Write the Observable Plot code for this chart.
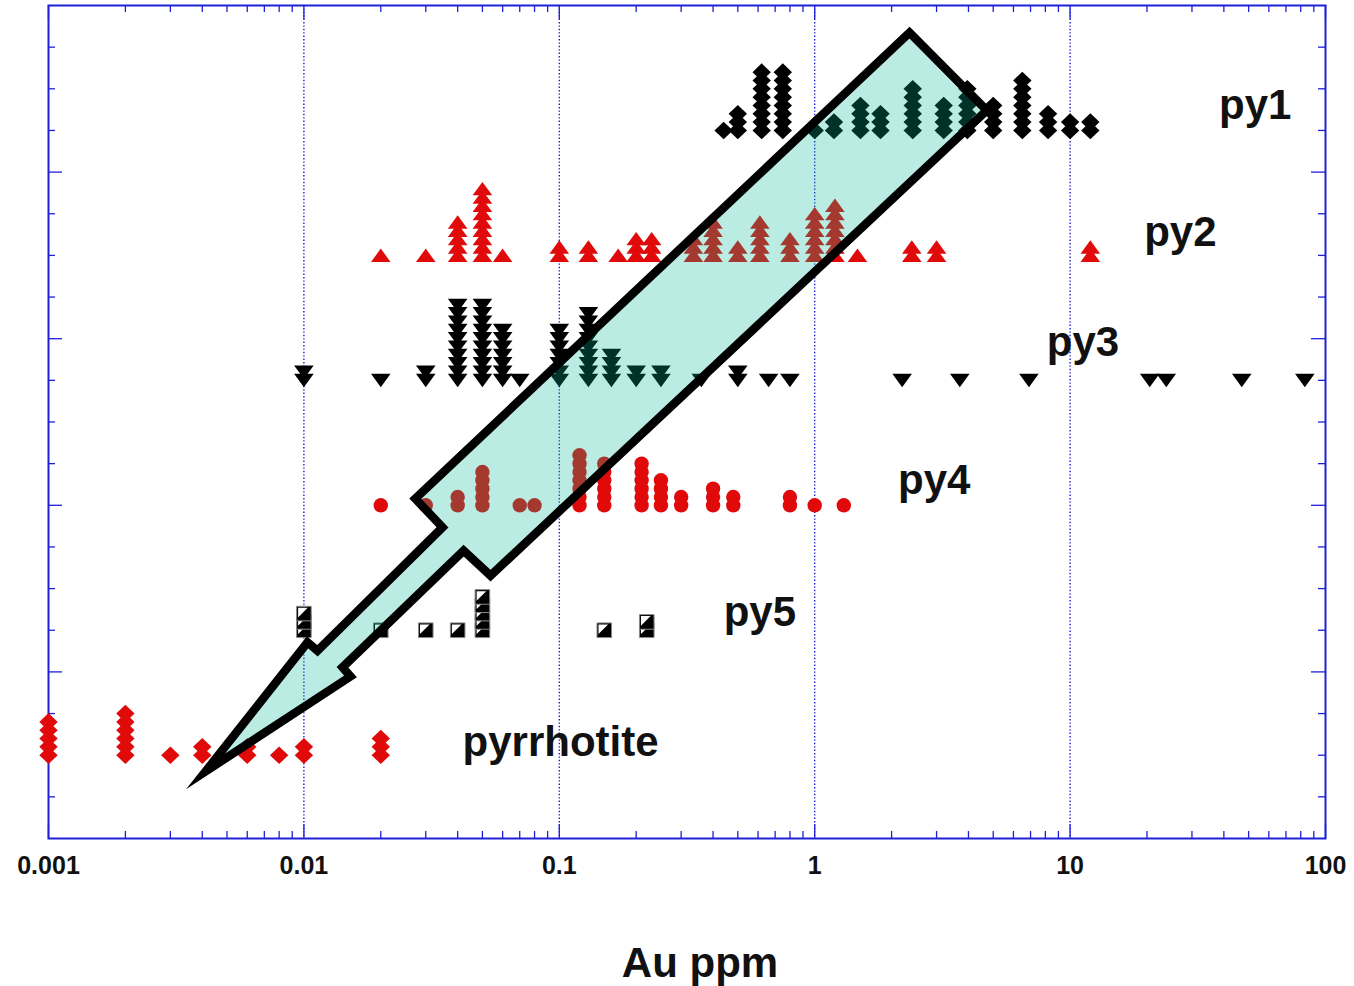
<!DOCTYPE html>
<html>
<head>
<meta charset="utf-8">
<script src="https://cdn.jsdelivr.net/npm/d3@7"></script>
<script src="https://cdn.jsdelivr.net/npm/@observablehq/plot@0.6"></script>
<style>
  html, body { margin: 0; padding: 0; background: #ffffff; }
  #chart { width: 1354px; height: 986px; }
</style>
</head>
<body>
<div id="chart"></div>
<script>
// ---------------- DATA ----------------
const SERIES = ["py1", "py2", "py3", "py4", "py5", "pyrrhotite"];
const ROW_Y = [17, 14, 11, 8, 5, 2];          // row (category) position on y
const STACK_STEP = 0.2;                        // y step between stacked analyses

// Au (ppm) value of each column and number of analyses in it
const py1Au = [0.44, 0.50, 0.62, 0.75, 1.0, 1.19, 1.51, 1.81, 2.42, 3.2, 3.96, 5.0, 6.5, 8.2, 10.0, 12.0];
const py1N  = [1,    3,    8,    8,    1,   2,    4,    3,    6,    4,   6,    4,   7,   3,   2,    2];

const py2Au = [0.02, 0.03, 0.04, 0.05, 0.06, 0.1, 0.13, 0.17, 0.2, 0.23, 0.335, 0.4, 0.5, 0.61, 0.8, 1.0, 1.2, 1.47, 2.4, 3.0, 12.0];
const py2N  = [1,    1,    5,    9,    1,    2,   2,    1,    3,   3,    3,     5,   2,   5,    3,   6,   7,   1,    2,   2,   2];

const py3Au = [0.01, 0.02, 0.03, 0.04, 0.05, 0.06, 0.07, 0.1, 0.13, 0.16, 0.2, 0.25, 0.36, 0.5, 0.66, 0.8, 2.2, 3.7, 6.9, 20.5, 23.8, 47, 83];
const py3N  = [2,    1,    2,    10,   10,   7,    1,    7,   9,    4,    2,   2,    1,    2,   1,    1,   1,   1,   1,   1,    1,    1,  1];

const py4Au = [0.02, 0.03, 0.04, 0.05, 0.07, 0.08, 0.12, 0.15, 0.21, 0.25, 0.3, 0.4, 0.48, 0.8, 1.0, 1.3];
const py4N  = [1,    1,    2,    5,    1,    1,    7,    6,    6,    4,    2,   3,   2,    2,   1,   1];

const py5Au = [0.01, 0.02, 0.03, 0.04, 0.05, 0.15, 0.22];
const py5N  = [3,    1,    1,    1,    5,    1,    2];

const pyrrAu = [0.001, 0.002, 0.003, 0.004, 0.006, 0.008, 0.01, 0.02];
const pyrrN  = [5,     6,     1,     2,     2,     1,     2,    3];

// axis
const X_TICKS = [0.001, 0.01, 0.1, 1, 10, 100];
const X_TICK_LABELS = ["0.001", "0.01", "0.1", "1", "10", "100"];
const X_TITLE = "Au ppm";
const Y_MAJOR = [4, 8, 12, 16];

// annotation: series labels (data coordinates)
const LABEL_X = [38.3, 19.5, 8.1, 2.12, 0.44, 0.0418];
const LABEL_Y = [17.6, 14.55, 11.9, 8.6, 5.43, 2.3];

// annotation: the big trend arrow outline (data coordinates)
const ARROW_AU = [2.35, 4.72, 0.0538, 0.0422, 0.01416, 0.01522, 0.00412, 0.01033, 0.0113, 0.0349, 0.0273];
const ARROW_Y  = [19.35, 17.48, 6.31, 6.91, 4.11, 3.89, 1.61, 4.71, 4.51, 7.47, 8.16];

// ---------------- BUILD ----------------
const BLUE = "#1f1fd8";
const RED = "#e10a0a";
const FONT = "'Liberation Sans', Arial, Helvetica, sans-serif";

function stack(name, au, n, row) {
  const out = [];
  au.forEach((v, i) => {
    for (let k = 0; k < n[i]; k++) out.push({series: name, au: v, level: k, y: row + STACK_STEP * k});
  });
  return out;
}
const py1Pts = stack("py1", py1Au, py1N, ROW_Y[0]);
const py2Pts = stack("py2", py2Au, py2N, ROW_Y[1]);
const py3Pts = stack("py3", py3Au, py3N, ROW_Y[2]);
const py4Pts = stack("py4", py4Au, py4N, ROW_Y[3]);
const py5Pts = stack("py5", py5Au, py5N, ROW_Y[4]);
const pyrrPts = stack("pyrrhotite", pyrrAu, pyrrN, ROW_Y[5]);

const labels = SERIES.map((s, i) => ({text: s, x: LABEL_X[i], y: LABEL_Y[i]}));
const arrow = ARROW_AU.map((a, i) => ({x: a, y: ARROW_Y[i]}));

// symbols
const DIAMOND = {draw(c) { c.moveTo(0, -8.8); c.lineTo(9.2, 0); c.lineTo(0, 8.8); c.lineTo(-9.2, 0); c.closePath(); }};
const TRI_UP = {draw(c) { c.moveTo(0, -6.8); c.lineTo(9.8, 6.6); c.lineTo(-9.8, 6.6); c.closePath(); }};
const TRI_DOWN = {draw(c) { c.moveTo(0, 6.8); c.lineTo(9.8, -6.6); c.lineTo(-9.8, -6.6); c.closePath(); }};
const SQUARE = {draw(c) { c.moveTo(-7.3, -7.3); c.lineTo(7.3, -7.3); c.lineTo(7.3, 7.3); c.lineTo(-7.3, 7.3); c.closePath(); }};
const CORNER = {draw(c) { c.moveTo(-5.8, -5.8); c.lineTo(3.8, -5.8); c.lineTo(-5.8, 3.8); c.closePath(); }};

// ticks
const decades = X_TICKS.slice(0, -1);
const xMinor = [];
decades.forEach(d => { for (let m = 2; m <= 9; m++) xMinor.push(d * m); });
const yMinor = d3.range(1, 20).filter(v => !Y_MAJOR.includes(v));

const W = 1354, H = 986, ML = 48, MR = 29, MT = 5, MB = 148;
const PH = H - MT - MB, PW = W - ML - MR;

const squareMarks = [];
const maxLevel = d3.max(py5N);
for (let k = 0; k < maxLevel; k++) {
  const pts = py5Pts.filter(d => d.level === k);
  squareMarks.push(Plot.dot(pts, {x: "au", y: "y", symbol: SQUARE, fill: "black", stroke: "#8a8a8a", strokeWidth: 1}));
  squareMarks.push(Plot.dot(pts, {x: "au", y: "y", symbol: CORNER, fill: "white", stroke: "none"}));
}

const chart = Plot.plot({
  width: W, height: H,
  marginLeft: ML, marginRight: MR, marginTop: MT, marginBottom: MB,
  style: {background: "white", fontFamily: FONT, overflow: "visible"},
  x: {type: "log", domain: [0.001, 100], axis: null},
  y: {domain: [0, 20], axis: null},
  marks: [
    // decade grid
    Plot.ruleX(X_TICKS.slice(1, -1), {stroke: BLUE, strokeWidth: 1.4, strokeDasharray: "1.4,2"}),
    // ticks (inward, all four sides)
    Plot.tickX(xMinor, {x: d => d, insetTop: PH - 7, stroke: BLUE, strokeWidth: 1.3}),
    Plot.tickX(xMinor, {x: d => d, insetBottom: PH - 7, stroke: BLUE, strokeWidth: 1.3}),
    Plot.tickX(X_TICKS, {x: d => d, insetTop: PH - 14, stroke: BLUE, strokeWidth: 1.3}),
    Plot.tickX(X_TICKS, {x: d => d, insetBottom: PH - 14, stroke: BLUE, strokeWidth: 1.3}),
    Plot.tickY(yMinor, {y: d => d, insetRight: PW - 7, stroke: BLUE, strokeWidth: 1.3}),
    Plot.tickY(yMinor, {y: d => d, insetLeft: PW - 7, stroke: BLUE, strokeWidth: 1.3}),
    Plot.tickY(Y_MAJOR, {y: d => d, insetRight: PW - 14, stroke: BLUE, strokeWidth: 1.3}),
    Plot.tickY(Y_MAJOR, {y: d => d, insetLeft: PW - 14, stroke: BLUE, strokeWidth: 1.3}),
    Plot.frame({stroke: BLUE, strokeWidth: 2}),
    // data
    Plot.dot(py1Pts, {x: "au", y: "y", symbol: DIAMOND, fill: "black", stroke: "none"}),
    Plot.dot(py2Pts, {x: "au", y: "y", symbol: TRI_UP, fill: RED, stroke: "none"}),
    Plot.dot(py3Pts, {x: "au", y: "y", symbol: TRI_DOWN, fill: "black", stroke: "none"}),
    Plot.dot(py4Pts, {x: "au", y: "y", r: 7.2, fill: RED, stroke: "none"}),
    ...squareMarks,
    Plot.dot(pyrrPts, {x: "au", y: "y", symbol: DIAMOND, fill: RED, stroke: "none"}),
    // arrow
    Plot.line(arrow, {x: "x", y: "y", curve: "linear-closed", fill: "rgb(0,185,153)", fillOpacity: 0.27,
      stroke: "black", strokeWidth: 8.5, strokeLinejoin: "miter", strokeMiterlimit: 10}),
    // series labels
    Plot.text(labels, {x: "x", y: "y", text: "text", textAnchor: "start", fontSize: 42, fontWeight: "bold", fill: "#111"}),
    // x tick labels
    Plot.text(X_TICKS, {x: d => d, frameAnchor: "bottom", dy: 35, text: (d, i) => X_TICK_LABELS[i],
      fontSize: 25, fontWeight: "bold", fill: "#111"}),
    // x title
    Plot.text([X_TITLE], {frameAnchor: "bottom", dx: 13, dy: 138, text: d => d, fontSize: 42, fontWeight: "bold", fill: "#111"})
  ]
});
document.getElementById("chart").appendChild(chart);
</script>
</body>
</html>
